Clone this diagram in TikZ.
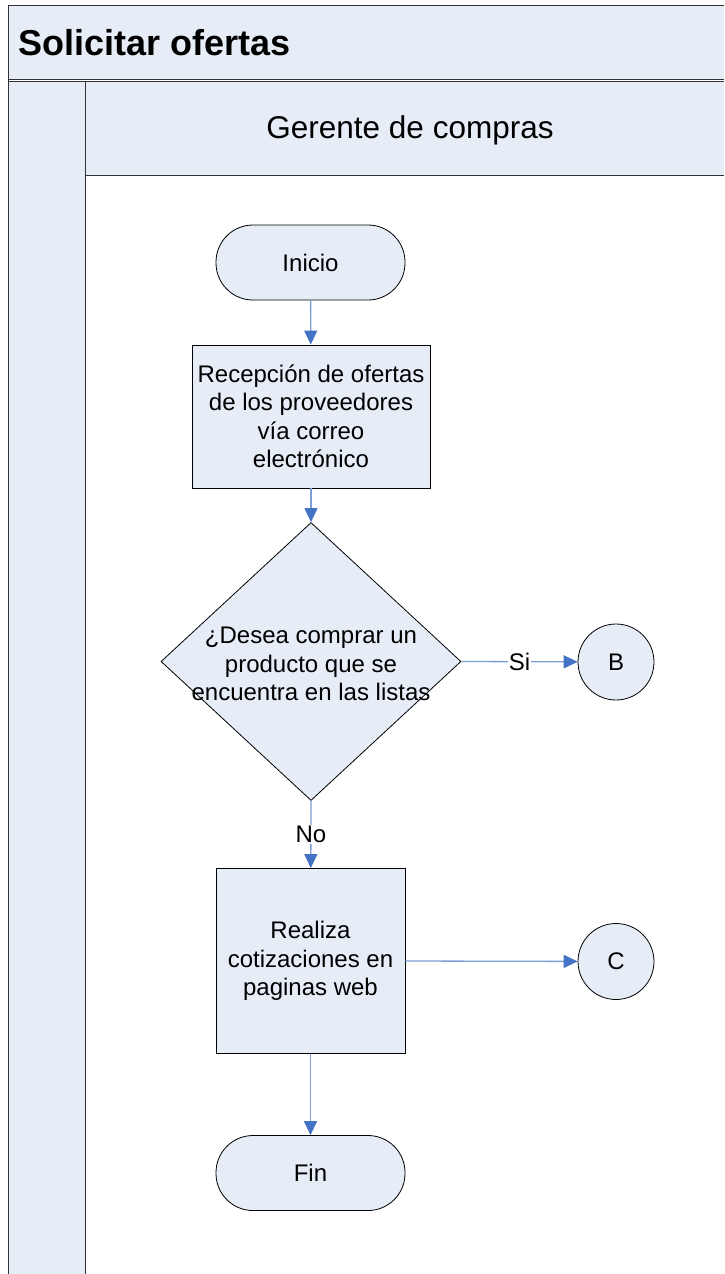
\documentclass[tikz,border=0pt]{standalone}
\usepackage{fontspec}
\setmainfont{Liberation Sans}
\usetikzlibrary{shapes.geometric,arrows.meta}
\definecolor{lanefill}{RGB}{230,237,247}
\definecolor{linkblue}{RGB}{125,158,212}
\definecolor{tipblue}{RGB}{68,114,196}
\definecolor{framegray}{RGB}{50,50,50}
\begin{document}
\begin{tikzpicture}[x=1pt,y=-1pt,
  every node/.style={font=\fontsize{24}{28.5}\selectfont},
  frame/.style={draw=framegray,line width=1pt},
  term/.style={draw=black,line width=0.8pt,fill=lanefill,rounded corners=37pt,minimum width=189pt,minimum height=75pt,inner sep=0pt},
  proc/.style={draw=black,line width=0.9pt,fill=lanefill,inner sep=0pt,align=center},
  conn/.style={draw=black,line width=0.8pt,fill=lanefill,circle,minimum size=76pt,inner sep=0pt},
  link/.style={draw=linkblue,line width=1.3pt,-{Triangle[length=14pt,width=13pt,fill=tipblue,color=tipblue]}},
  lbl/.style={fill=white,inner sep=1pt}]
\useasboundingbox (0,0) rectangle (724,1274);
% frame
\fill[white] (0,0) rectangle (724,1274);
\fill[lanefill] (8,5) rectangle (724,79);
\fill[lanefill] (8,81) rectangle (85,1274);
\fill[lanefill] (85,81) rectangle (724,175);
\draw[frame] (724,5) -- (8,5) -- (8,1274);
\draw[frame] (8,79) -- (724,79);
\draw[frame] (8,81) -- (724,81);
\draw[frame] (85,81) -- (85,1274);
\draw[frame] (85,175) -- (724,175);
\node[anchor=base west,font=\fontsize{36}{40}\selectfont\bfseries,inner sep=0pt] (title) at (18,55) {Solicitar ofertas};
\node[font=\fontsize{31.5}{36}\selectfont] (lane) at (410,130) {Gerente de compras};
% nodes
\node[term] (ini) at (310.5,262.5) {Inicio};
\node[proc,minimum width=238pt,minimum height=143pt] (rec) at (311,416.5) {Recepción de ofertas\\de los proveedores\\vía correo\\electrónico};
\node[diamond,draw=black,line width=0.8pt,fill=lanefill,minimum width=300pt,minimum height=278pt,inner sep=0pt] (dec) at (311,661.5) {};
\node[align=center] (dectext) at (311,664) {¿Desea comprar un\\producto que se\\encuentra en las listas};
\node[conn] (B) at (616,662) {B};
\node[proc,minimum width=189pt,minimum height=185pt] (cot) at (310.5,961) {Realiza\\cotizaciones en\\paginas web};
\node[conn] (C) at (616,961.5) {C};
\node[term] (fin) at (310.5,1173) {Fin};
% connectors
\draw[link] (ini) -- (rec);
\draw[link] (rec) -- (dec);
\draw[link] (dec.east) -- node[lbl] {Si} (B);
\draw[link] (dec.south) -- node[lbl] {No} (cot);
\draw[link] (cot.east) -- (C);
\draw[link] (cot) -- (fin);
\end{tikzpicture}
\end{document}
